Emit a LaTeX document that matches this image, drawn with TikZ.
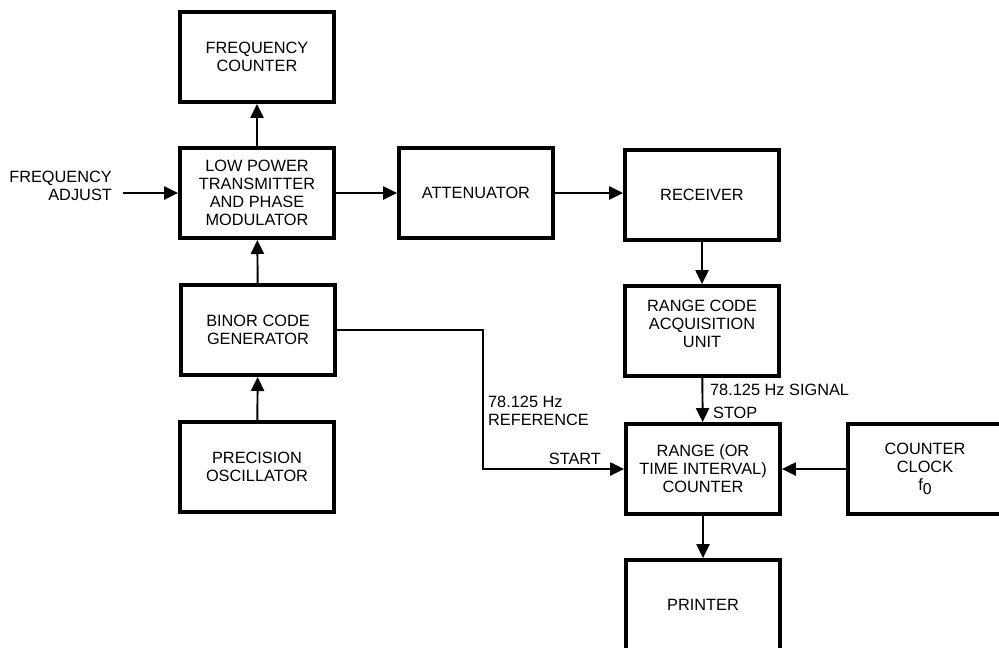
\documentclass[tikz,border=0pt]{standalone}
\usepackage{fontspec}
\setmainfont{Liberation Sans}
\usepackage{tikz}
\usetikzlibrary{arrows.meta,positioning}

\begin{document}
\begin{tikzpicture}[x=0.02cm, y=-0.02cm,
    block/.style={draw, line width=2.2pt, minimum width=3.08cm, minimum height=1.8cm,
        align=center, font=\fontsize{9.3}{10.3}\selectfont},
    conn/.style={line width=1.1pt, -{Triangle[length=8pt, width=7.5pt]}},
    lbl/.style={font=\fontsize{9.3}{10.3}\selectfont, inner sep=1pt},
]
    \useasboundingbox (0,0) rectangle (999,647);
    \clip (0,0) rectangle (999,647);

    % Left column
    \node[block] (freq)  at (257,57)  {FREQUENCY\\COUNTER};
    \node[block] (lpt)   at (257,193) {LOW POWER\\TRANSMITTER\\AND PHASE\\MODULATOR};
    \node[block] (binor) at (258,330) {BINOR CODE\\GENERATOR};
    \node[block] (osc)   at (257,467) {PRECISION\\OSCILLATOR};

    % Middle and right
    \node[block] (atten) at (476,193) {ATTENUATOR};
    \node[block] (recv)  at (702,195) {RECEIVER};
    \node[block] (rca)   at (702,331) {RANGE CODE\\ACQUISITION\\UNIT\\[-2pt]};
    \node[block] (rctr)  at (703,469) {RANGE (OR\\TIME INTERVAL)\\COUNTER};
    \node[block] (prn)   at (703,605) {PRINTER};
    \node[block] (clock) at (925,469) {COUNTER\\CLOCK\\f\raisebox{-2.5pt}{\small 0}};

    % Input label
    \node[lbl, align=right, anchor=east] (fadj) at (114,186) {FREQUENCY\\ADJUST};
    \coordinate (fadjend) at (123,193);

    % Connectors
    \draw[conn] (fadjend) -- (lpt.west);
    \draw[conn] (lpt) -- (freq);
    \draw[conn] (binor) -- (lpt);
    \draw[conn] (osc) -- (binor);
    \draw[conn] (lpt) -- (atten);
    \draw[conn] (atten.east) -- (recv.west |- atten.east);
    \draw[conn] (recv) -- (rca);
    \draw[conn] (rca) -- (rctr);
    \draw[conn] (rctr) -- (prn);
    \draw[conn] (clock) -- (rctr);
    \draw[conn] (binor.east) -- ++(146,0) |- (rctr.west);

    % Signal labels
    \node[lbl, align=left, anchor=north west] (ref) at (486,394) {78.125 Hz\\REFERENCE};
    \node[lbl, anchor=south east] (start) at (603,467) {START};
    \node[lbl, anchor=west] (sig) at (708,390) {78.125 Hz SIGNAL};
    \node[lbl, anchor=west] (stop) at (711,413) {STOP};
\end{tikzpicture}
\end{document}
